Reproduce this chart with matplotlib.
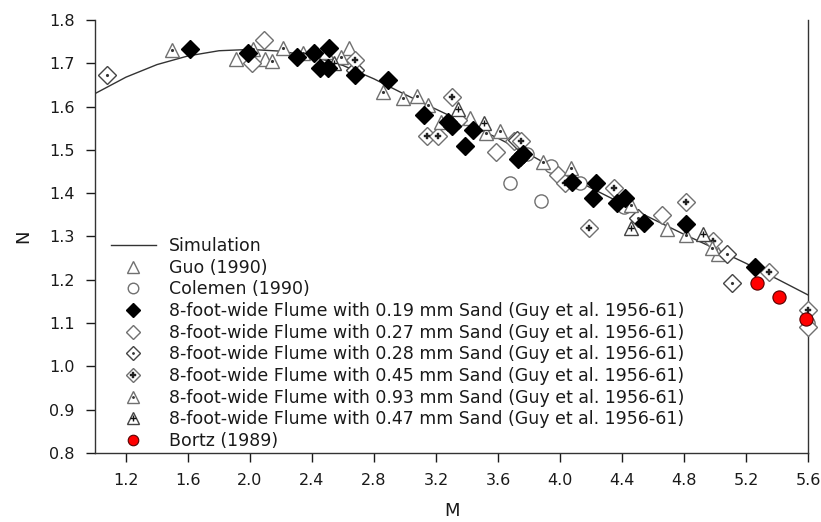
import matplotlib
matplotlib.use("Agg")
import matplotlib.pyplot as plt
from matplotlib.legend_handler import HandlerTuple

plt.rcParams['font.family'] = ['DejaVu Sans']

# simulation curve
m_sim = [1.0, 1.2, 1.4, 1.6, 1.8, 2.0, 2.2, 2.4, 2.6, 2.8, 3.0, 3.2, 3.4, 3.6,
         3.8, 4.0, 4.2, 4.4, 4.6, 4.8, 5.0, 5.2, 5.4, 5.6]
n_sim = [1.630, 1.668, 1.697, 1.717, 1.729, 1.732, 1.728, 1.716, 1.695, 1.664,
         1.628, 1.594, 1.560, 1.527, 1.490, 1.450, 1.412, 1.376, 1.340, 1.305,
         1.272, 1.238, 1.202, 1.165]

# Guo (1990)
m_guo = [2.64, 2.10, 3.42, 4.69, 5.02, 1.91]
n_guo = [1.735, 1.710, 1.574, 1.318, 1.260, 1.710]

# Colemen (1990)
m_col = [3.79, 3.94, 4.13, 3.68, 3.88, 4.41, 5.60]
n_col = [1.490, 1.463, 1.424, 1.424, 1.382, 1.368, 1.100]

# 0.19 mm sand
m_19 = [1.61, 1.99, 2.30, 2.41, 2.51, 2.45, 2.50, 2.68, 2.89, 3.12, 3.28, 3.30,
        3.39, 3.44, 3.74, 3.76, 3.73, 4.08, 4.23, 4.21, 4.37, 4.42, 4.54, 4.81, 5.26]
n_19 = [1.733, 1.724, 1.715, 1.724, 1.735, 1.690, 1.690, 1.673, 1.662, 1.580,
        1.565, 1.555, 1.510, 1.546, 1.483, 1.490, 1.478, 1.425, 1.424, 1.390,
        1.378, 1.390, 1.331, 1.330, 1.230]

# 0.27 mm sand
m_27 = [2.09, 2.01, 3.34, 3.59, 3.70, 3.99, 4.66, 5.60]
n_27 = [1.754, 1.700, 1.570, 1.495, 1.521, 1.442, 1.350, 1.092]

# 0.28 mm sand
m_28 = [1.08, 2.68, 3.72, 4.50, 5.08, 5.11]
n_28 = [1.673, 1.685, 1.523, 1.343, 1.260, 1.193]

# 0.45 mm sand
m_45 = [2.68, 3.30, 3.14, 3.21, 3.75, 4.03, 4.35, 4.19, 4.81, 4.99, 5.35, 5.60]
n_45 = [1.708, 1.622, 1.532, 1.532, 1.520, 1.424, 1.412, 1.320, 1.380, 1.290,
        1.218, 1.131]

# 0.93 mm sand
m_93 = [1.50, 2.02, 2.21, 2.14, 2.34, 2.49, 2.59, 2.86, 2.99, 3.08, 3.15, 3.23,
        3.52, 3.61, 3.89, 4.07, 4.46, 4.81, 4.98]
n_93 = [1.730, 1.733, 1.735, 1.705, 1.724, 1.726, 1.715, 1.634, 1.620, 1.625,
        1.604, 1.565, 1.540, 1.544, 1.472, 1.458, 1.373, 1.304, 1.274]

# 0.47 mm sand
m_47 = [2.54, 3.34, 3.51, 4.46, 4.92]
n_47 = [1.700, 1.595, 1.562, 1.320, 1.306]

# Bortz (1989)
m_bor = [5.27, 5.41, 5.59]
n_bor = [1.193, 1.161, 1.110]

fig, ax = plt.subplots(figsize=(8.21, 5.22), dpi=100)
fig.subplots_adjust(left=0.1157, right=0.9842, top=0.9617, bottom=0.1322)

gray = '#707070'
kw = dict(ls='none', clip_on=False)

h_sim, = ax.plot(m_sim, n_sim, color='#333333', lw=1.0, zorder=2)

h_guo, = ax.plot(m_guo, n_guo, marker='^', ms=10, mfc='white', mec=gray, mew=1.0, zorder=3, **kw)

h_col, = ax.plot(m_col, n_col, marker='o', ms=9.5, mfc='white', mec=gray, mew=1.0, zorder=3, **kw)

h_19, = ax.plot(m_19, n_19, marker='D', ms=9, mfc='black', mec='black', mew=1.0, zorder=4, **kw)

h_27, = ax.plot(m_27, n_27, marker='D', ms=9, mfc='white', mec=gray, mew=1.0, zorder=3, **kw)

h_28a, = ax.plot(m_28, n_28, marker='D', ms=9, mfc='white', mec='#444444', mew=1.0, zorder=3, **kw)
h_28b, = ax.plot(m_28, n_28, marker='.', ms=2.5, color='#333333', zorder=3, **kw)

h_45a, = ax.plot(m_45, n_45, marker='D', ms=9, mfc='white', mec=gray, mew=1.0, zorder=3, **kw)
h_45b, = ax.plot(m_45, n_45, marker='P', ms=5, mfc='#222222', mec='#222222', mew=0.3, zorder=3, **kw)

h_93a, = ax.plot(m_93, n_93, marker='^', ms=10, mfc='white', mec=gray, mew=1.0, zorder=3, **kw)
h_93b, = ax.plot(m_93, n_93, marker='.', ms=2.5, color='#333333', zorder=3, **kw)

h_47a, = ax.plot(m_47, n_47, marker='^', ms=10, mfc='white', mec='#444444', mew=1.0, zorder=3, **kw)
h_47b, = ax.plot(m_47, n_47, marker='+', ms=5, color='#111111', mew=1.0, zorder=3, **kw)

h_bor, = ax.plot(m_bor, n_bor, marker='o', ms=9.5, mfc='#ff0000', mec='#550000', mew=0.8, zorder=5, **kw)

ax.set_xlim(1.0, 5.6)
ax.set_ylim(0.8, 1.8)
ax.set_xticks([1.2, 1.6, 2.0, 2.4, 2.8, 3.2, 3.6, 4.0, 4.4, 4.8, 5.2, 5.6])
ax.set_yticks([0.8, 0.9, 1.0, 1.1, 1.2, 1.3, 1.4, 1.5, 1.6, 1.7, 1.8])
ax.set_yticklabels(['%.1f' % v for v in ax.get_yticks()])
ax.set_xticklabels(['%.1f' % v for v in ax.get_xticks()])
ax.tick_params(direction='out', length=6.5, width=1.0, labelsize=11.5,
               colors='#1a1a1a', pad=8)
ax.spines['top'].set_visible(False)
for s in ['left', 'bottom', 'right']:
    ax.spines[s].set_color('#333333')
    ax.spines[s].set_linewidth(1.0)

ax.set_xlabel('M', fontsize=13, color='#1a1a1a', labelpad=10)
ax.set_ylabel('N', fontsize=13, color='#1a1a1a', labelpad=12)

handles = [h_sim, h_guo, h_col, h_19, h_27, (h_28a, h_28b), (h_45a, h_45b),
           (h_93a, h_93b), (h_47a, h_47b), h_bor]
labels = ['Simulation', 'Guo (1990)', 'Colemen (1990)',
          '8-foot-wide Flume with 0.19 mm Sand (Guy et al. 1956-61)',
          '8-foot-wide Flume with 0.27 mm Sand (Guy et al. 1956-61)',
          '8-foot-wide Flume with 0.28 mm Sand (Guy et al. 1956-61)',
          '8-foot-wide Flume with 0.45 mm Sand (Guy et al. 1956-61)',
          '8-foot-wide Flume with 0.93 mm Sand (Guy et al. 1956-61)',
          '8-foot-wide Flume with 0.47 mm Sand (Guy et al. 1956-61)',
          'Bortz (1989)']
leg = ax.legend(handles, labels, loc='lower left', bbox_to_anchor=(0.01, -0.013),
                frameon=False, fontsize=12.5, handlelength=2.6, handletextpad=0.75,
                labelspacing=0.21, markerscale=0.8, borderaxespad=0.1,
                handler_map={tuple: HandlerTuple(ndivide=1)})
for t in leg.get_texts():
    t.set_color('#1a1a1a')

fig.savefig('out.png', dpi=100)
